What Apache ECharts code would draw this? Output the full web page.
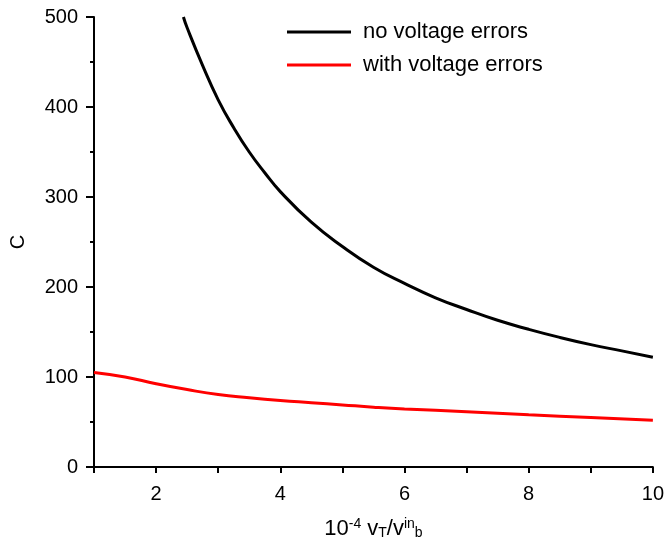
<!DOCTYPE html>
<html>
<head>
<meta charset="utf-8">
<script src="https://cdn.jsdelivr.net/npm/echarts@6/dist/echarts.min.js"></script>
<style>
	html, body { margin: 0; padding: 0; background: #fff; }
	#chart { width: 667px; height: 545px; }
</style>
</head>
<body>
<div id="chart"></div>
<script>
	// values
	var noErrX = [2.44, 2.5, 2.75, 3, 3.25, 3.5, 3.75, 4, 4.5, 5, 5.5, 6, 6.5, 7, 7.5, 8, 8.5, 9, 9.5, 10]
	var noErrC = [500, 488, 446, 408, 377, 350, 327, 306, 272, 245, 222, 204, 188, 175, 163, 153, 144, 136, 129, 122]
	var withErrX = [1, 1.5, 2, 2.5, 3, 3.5, 4, 4.5, 5, 5.5, 6, 7, 8, 9, 10]
	var withErrC = [105, 100, 92.5, 86, 80.5, 77, 74, 71.5, 69, 66.5, 64.5, 61.5, 58, 55, 52]
	var seriesNames = ['no voltage errors', 'with voltage errors']

	function pairs(xs, ys) {
		var out = []
		for (var i = 0; i < xs.length; i++) out.push([xs[i], ys[i]])
		return out
	}

	var font = 'Liberation Sans, Arial, sans-serif'
	var chart = echarts.init(document.getElementById('chart'))
	var option = {
		animation: false,
		backgroundColor: '#fff',
		textStyle: { fontFamily: font },
		grid: { left: 92, right: 12, top: 17, bottom: 77 },
		legend: {
			orient: 'vertical',
			left: 282,
			top: 16,
			itemWidth: 64,
			itemHeight: 3,
			itemGap: 11,
			icon: 'rect',
			textStyle: { fontSize: 22, color: '#000', fontFamily: font, padding: [0, 0, 0, 7] },
			data: seriesNames
		},
		xAxis: {
			type: 'value',
			min: 1,
			max: 10,
			interval: 1,
			name: '10{sup|-4} v{sub|T}/v{sup|in}{sub|b}',
			nameLocation: 'middle',
			nameGap: 50,
			nameTextStyle: {
				fontSize: 22, color: '#000', fontFamily: font,
				rich: {
					sup: { fontSize: 14, verticalAlign: 'top', padding: [0, 0, 9, 0] },
					sub: { fontSize: 14, verticalAlign: 'bottom', padding: [9, 0, 0, 0] }
				}
			},
			axisLine: { lineStyle: { color: '#000', width: 2 } },
			axisTick: { inside: false, length: 6, lineStyle: { color: '#000', width: 2 } },
			axisLabel: {
				fontSize: 20, color: '#000', margin: 17,
				formatter: function (v) { return v % 2 === 0 ? String(v) : '' }
			},
			splitLine: { show: false }
		},
		yAxis: {
			type: 'value',
			min: 0,
			max: 500,
			interval: 100,
			name: 'C',
			nameLocation: 'middle',
			nameGap: 66,
			nameTextStyle: { fontSize: 20, color: '#000', fontFamily: font },
			axisLine: { show: true, lineStyle: { color: '#000', width: 2 } },
			axisTick: { show: true, length: 8, lineStyle: { color: '#000', width: 2 } },
			minorTick: { show: true, splitNumber: 2, length: 4, lineStyle: { color: '#000', width: 2 } },
			axisLabel: { fontSize: 20, color: '#000', margin: 16 },
			splitLine: { show: false }
		},
		series: [
			{
				name: seriesNames[0],
				type: 'line',
				smooth: true,
				showSymbol: false,
				color: '#000',
				lineStyle: { color: '#000', width: 3 },
				data: pairs(noErrX, noErrC)
			},
			{
				name: seriesNames[1],
				type: 'line',
				smooth: true,
				showSymbol: false,
				color: '#ff0000',
				lineStyle: { color: '#ff0000', width: 3 },
				data: pairs(withErrX, withErrC)
			}
		]
	}
	chart.setOption(option)
</script>
</body>
</html>
